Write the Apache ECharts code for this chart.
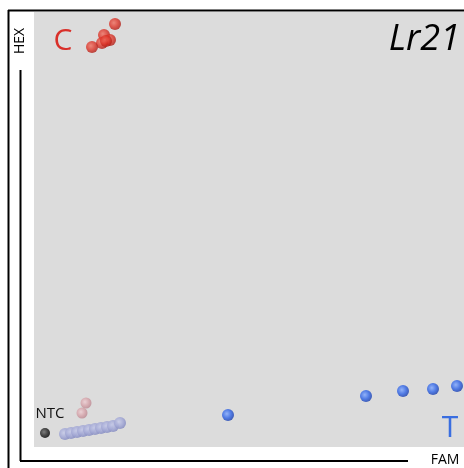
<!DOCTYPE html>
<html><head><meta charset="utf-8">
<script src="https://cdn.jsdelivr.net/npm/echarts@6/dist/echarts.min.js"></script>
<style>html,body{margin:0;padding:0;background:#fff}#c{width:464px;height:468px}</style>
</head><body><div id="c"></div>
<script>
// FAM (x) and HEX (y) fluorescence, arbitrary units
const allele1_C = [[810,4230],[700,4120],[760,4070],[680,4040],[720,4060],[580,4000]];
const allele2_T = [[1940,320],[3320,510],[3690,560],[3990,580],[4230,610]];
const ntc = [[110,140]];
const undetermined_pink = [[520,440],[480,340]];
const undetermined_grey = [[310,130],[370,140],[430,150],[490,160],[550,170],[610,180],[670,190],[730,200],[790,210],[860,240]];
const xMax = 4300, yMax = 4350;

function ball(light, mid, dark){
  return {type:'radial',x:0.4,y:0.4,r:0.6,colorStops:[{offset:0,color:light},{offset:0.6,color:mid},{offset:1,color:dark}]};
}
const chart = echarts.init(document.getElementById('c'));
chart.setOption({
  animation:false,
  grid:{left:34,top:12,width:430,height:435,show:true,backgroundColor:'#dcdcdc',borderWidth:0},
  xAxis:{type:'value',min:0,max:xMax,show:false},
  yAxis:{type:'value',min:0,max:yMax,show:false},
  series:[
    {type:'scatter',data:undetermined_grey,symbolSize:12,itemStyle:{color:ball('#c8cce8','#a6abd6','#8c92c4'),opacity:0.9}},
    {type:'scatter',data:undetermined_pink,symbolSize:11,itemStyle:{color:ball('#ecd0d4','#d6a8ae','#c0929a'),opacity:0.9}},
    {type:'scatter',data:ntc,symbolSize:10,itemStyle:{color:ball('#666','#222','#000')}},
    {type:'scatter',data:allele1_C,symbolSize:12,itemStyle:{color:ball('#f07060','#dc3428','#b02018')}},
    {type:'scatter',data:allele2_T,symbolSize:12,itemStyle:{color:ball('#80a8ff','#2d62e6','#1a40b0')}}
  ],
  graphic:[
    {type:'line',shape:{x1:8,y1:10.5,x2:464,y2:10.5},style:{stroke:'#000',lineWidth:2}},
    {type:'line',shape:{x1:8.5,y1:10,x2:8.5,y2:468},style:{stroke:'#000',lineWidth:2}},
    {type:'line',shape:{x1:20.5,y1:70,x2:20.5,y2:461},style:{stroke:'#000',lineWidth:2}},
    {type:'line',shape:{x1:20,y1:461,x2:408,y2:461},style:{stroke:'#000',lineWidth:2}},
    {type:'text',x:20,y:41,rotation:Math.PI/2,style:{text:'HEX',fill:'#000',font:'14px "Open Sans"',align:'center',verticalAlign:'middle'}},
    {type:'text',x:445,y:453,style:{text:'FAM',fill:'#000',font:'14px "Open Sans"',align:'center',verticalAlign:'top'}},
    {type:'text',x:63,y:41,style:{text:'C',fill:'#d9302a',font:'30px "Open Sans"',align:'center',verticalAlign:'middle'}},
    {type:'text',x:450,y:428,style:{text:'T',fill:'#3a6ee0',font:'30px "Open Sans"',align:'center',verticalAlign:'middle'}},
    {type:'text',x:50,y:414,style:{text:'NTC',fill:'#111',font:'15px "Open Sans"',align:'center',verticalAlign:'middle'}},
    {type:'text',x:460,y:40,style:{text:'Lr21',fill:'#000',font:'italic 36px "Open Sans"',align:'right',verticalAlign:'middle'}}
  ]
});
</script></body></html>
